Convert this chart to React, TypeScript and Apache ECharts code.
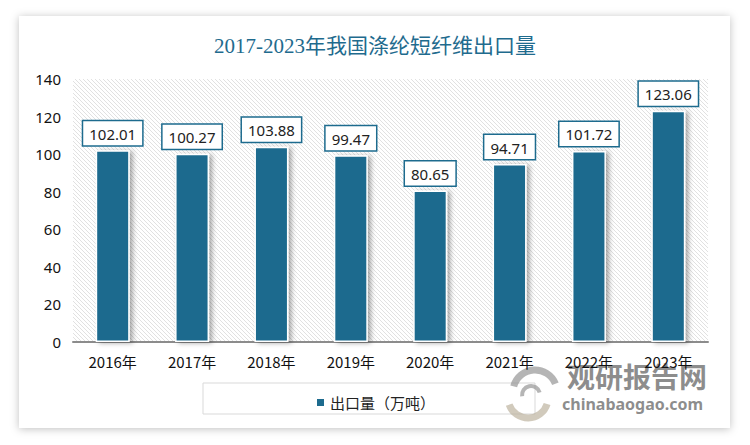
import React, { useEffect, useRef } from "react";
import * as echarts from "echarts";

const categories = ["2016年", "2017年", "2018年", "2019年", "2020年", "2021年", "2022年", "2023年"];
const exportValues = [102.01, 100.27, 103.88, 99.47, 80.65, 94.71, 101.72, 123.06];
const seriesName = "出口量（万吨）";
const titleText = "2017-2023年我国涤纶短纤维出口量";

const BAR = "#1d6b8e";

const hatchSvg =
  "data:image/svg+xml;utf8," +
  encodeURIComponent(
    '<svg xmlns="http://www.w3.org/2000/svg" width="4" height="4"><rect width="4" height="4" fill="#ffffff"/><path d="M0 0L4 4M-1 3L1 5M3 -1L5 1" stroke="#dedede" stroke-width="0.9"/></svg>'
  );

export default function App() {
  const ref = useRef<HTMLDivElement>(null);
  useEffect(() => {
    if (!ref.current) return;
    const chart = echarts.init(ref.current, undefined, { renderer: "svg" });
    chart.setOption({
      animation: false,
      backgroundColor: "#ffffff",
      title: {
        text: titleText,
        left: "center",
        top: 30,
        textStyle: {
          fontFamily: "Liberation Serif, Noto Sans CJK SC",
          fontSize: 21,
          fontWeight: "normal",
          color: "#1f6b8e",
        },
      },
      graphic: [
        {
          type: "rect",
          z: -10,
          shape: { x: 19, y: 16, width: 711, height: 412 },
          style: { fill: "#ffffff", shadowBlur: 8, shadowColor: "rgba(0,0,0,0.25)", shadowOffsetY: 1 },
        },
        {
          type: "rect",
          z: -5,
          shape: { x: 203, y: 383, width: 332, height: 31 },
          style: { fill: "#ffffff", stroke: "#d9d9d9", lineWidth: 1 },
        },
        {
          type: "group",
          z: 50,
          children: [
            { type: "arc", shape: { cx: 535, cy: 392, r: 22, startAngle: 3.4, endAngle: 5.9 }, style: { stroke: "rgba(150,150,150,0.7)", lineWidth: 7, fill: "none" } },
            { type: "arc", shape: { cx: 528, cy: 398, r: 20, startAngle: 0.3, endAngle: 2.8 }, style: { stroke: "rgba(190,180,160,0.7)", lineWidth: 7, fill: "none" } },
            { type: "arc", shape: { cx: 531, cy: 395, r: 9, startAngle: 3.0, endAngle: 6.0 }, style: { stroke: "rgba(150,150,150,0.7)", lineWidth: 4, fill: "none" } },
            {
              type: "text",
              style: { x: 567, y: 362, text: "观研报告网", font: "bold 28px Noto Sans CJK SC", fill: "rgba(120,120,120,0.85)" },
            },
            {
              type: "text",
              style: { x: 562, y: 396, text: "chinabaogao.com", font: "bold 16px Noto Sans, sans-serif", fill: "rgba(120,120,120,0.85)" },
            },
          ],
        },
      ],
      legend: {
        data: [seriesName],
        left: "center",
        top: 390,
        itemWidth: 9,
        itemHeight: 9,
        icon: "rect",
        textStyle: { fontSize: 15, color: "#222", fontFamily: "Noto Sans CJK SC" },
      },
      grid: {
        left: 73,
        right: 42,
        top: 79,
        bottom: 103,
        show: true,
        borderWidth: 0,
        backgroundColor: { image: hatchSvg, repeat: "repeat" } as any,
      },
      xAxis: {
        type: "category",
        data: categories,
        axisLine: { lineStyle: { color: "#8c8c8c", width: 2 } },
        axisTick: { show: false },
        axisLabel: { fontSize: 15, color: "#111", margin: 12, fontFamily: "Noto Sans CJK SC" },
      },
      yAxis: {
        type: "value",
        min: 0,
        max: 140,
        interval: 20,
        axisLine: { show: false },
        axisTick: { show: false },
        splitLine: { show: false },
        axisLabel: { fontSize: 15, color: "#111", margin: 12, fontFamily: "Noto Sans, sans-serif" },
      },
      series: [
        {
          name: seriesName,
          type: "bar",
          data: exportValues,
          barWidth: 34,
          itemStyle: {
            color: BAR,
            borderColor: "#ffffff",
            borderWidth: 1.5,
            shadowColor: "rgba(0,0,0,0.35)",
            shadowBlur: 5,
            shadowOffsetX: 3,
            shadowOffsetY: 1,
          },
          label: {
            show: true,
            position: "top",
            distance: 5,
            formatter: (p: any) => p.value.toFixed(2),
            fontSize: 15,
            color: "#222",
            fontFamily: "Noto Sans, sans-serif",
            backgroundColor: "#ffffff",
            borderColor: BAR,
            borderWidth: 1.5,
            padding: [5, 6, 4, 6],
          },
        },
      ],
    });
    return () => chart.dispose();
  }, []);
  return (
    <div
      ref={ref}
      style={{ position: "fixed", left: 0, top: 0, width: 750, height: 445 }}
    />
  );
}
